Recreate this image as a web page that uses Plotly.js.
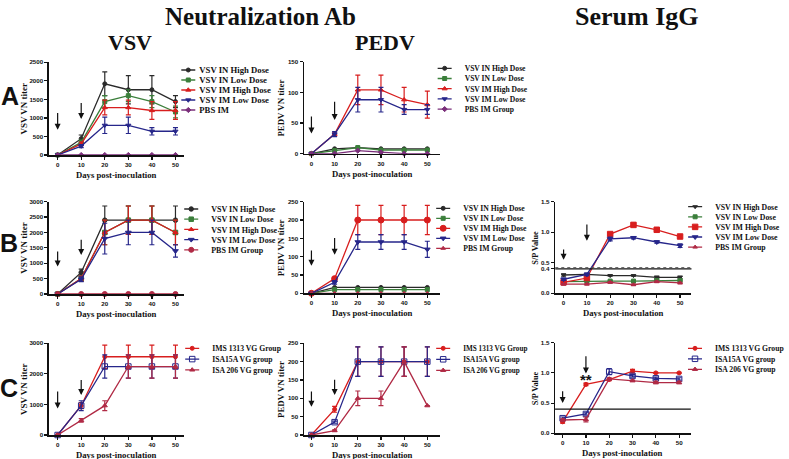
<!DOCTYPE html>
<html>
<head>
<meta charset="utf-8">
<script src="https://cdn.plot.ly/plotly-3.0.1.min.js"></script>
<style>html,body{margin:0;padding:0;background:#fff}#chart{width:789px;height:459px}</style>
</head>
<body>
<div id="chart"></div>
<script>
// ---------------- DATA ----------------
const days = [0, 10, 20, 30, 40, 50];
const namesAB = ['VSV IN High Dose', 'VSV IN Low Dose', 'VSV IM High Dose', 'VSV IM Low Dose', 'PBS IM Group'];
const pbsNameA = 'PBS IM';
const namesC = ['IMS 1313 VG Group', 'ISA15A VG group', 'ISA 206 VG group'];

// A - VSV neutralization
const aVsvInHigh = [0, 440, 1920, 1760, 1760, 1440];
const aVsvInHighErr = [0, 100, 320, 380, 380, 160];
const aVsvInLow = [0, 340, 1440, 1600, 1440, 1160];
const aVsvInLowErr = [0, 60, 160, 160, 160, 160];
const aVsvImHigh = [0, 300, 1280, 1280, 1200, 1200];
const aVsvImHighErr = [0, 50, 200, 200, 240, 240];
const aVsvImLow = [0, 240, 800, 800, 640, 640];
const aVsvImLowErr = [0, 40, 220, 220, 100, 100];
const aVsvPbs = [0, 0, 0, 0, 0, 0];

// A - PEDV neutralization
const aPedvInHigh = [0, 8, 10, 8, 8, 8];
const aPedvInLow = [0, 5, 10, 6, 6, 6];
const aPedvImHigh = [0, 32, 104, 104, 88, 80];
const aPedvImHighErr = [0, 3, 24, 24, 20, 22];
const aPedvImLow = [0, 32, 88, 88, 72, 72];
const aPedvImLowErr = [0, 4, 20, 20, 8, 8];
const aPedvPbs = [0, 0, 5, 2, 0, 0];

// B - VSV neutralization
const bVsvInHigh = [0, 700, 2400, 2400, 2400, 2400];
const bVsvInHighErr = [0, 110, 460, 460, 460, 460];
const bVsvInLow = [0, 500, 2000, 2400, 2400, 2000];
const bVsvInLowErr = [0, 80, 400, 460, 460, 400];
const bVsvImHigh = [0, 500, 2000, 2400, 2400, 2000];
const bVsvImHighErr = [0, 80, 400, 460, 460, 400];
const bVsvImLow = [0, 480, 1800, 2000, 2000, 1400];
const bVsvImLowErr = [0, 80, 500, 400, 400, 200];
const bVsvPbs = [0, 0, 0, 0, 0, 0];

// B - PEDV neutralization
const bPedvInHigh = [0, 16, 16, 16, 16, 16];
const bPedvInLow = [0, 10, 10, 10, 10, 10];
const bPedvImHigh = [0, 40, 200, 200, 200, 200];
const bPedvImHighErr = [0, 3, 40, 40, 40, 40];
const bPedvImLow = [0, 30, 140, 140, 140, 120];
const bPedvImLowErr = [0, 5, 20, 20, 20, 22];
const bPedvPbs = [0, 0, 0, 0, 0, 0];

// B - Serum IgG S/P
const bSpInHigh = [0.30, 0.31, 0.29, 0.29, 0.26, 0.26];
const bSpInHighErr = [0.02, 0.01, 0.01, 0.01, 0.02, 0.02];
const bSpInLow = [0.19, 0.20, 0.20, 0.20, 0.21, 0.21];
const bSpInLowErr = [0.01, 0.01, 0.01, 0.01, 0.01, 0.01];
const bSpImHigh = [0.18, 0.25, 0.97, 1.12, 1.04, 0.93];
const bSpImHighErr = [0.02, 0.02, 0.02, 0.03, 0.03, 0.02];
const bSpImLow = [0.23, 0.31, 0.89, 0.91, 0.84, 0.78];
const bSpImLowErr = [0.02, 0.02, 0.03, 0.02, 0.02, 0.03];
const bSpPbs = [0.15, 0.15, 0.18, 0.14, 0.19, 0.17];
const bSpPbsErr = [0.01, 0.01, 0.01, 0.01, 0.01, 0.01];

// C - VSV neutralization
const cVsvIms = [0, 960, 2560, 2560, 2560, 2560];
const cVsvImsErr = [0, 100, 380, 380, 380, 380];
const cVsvIsa15 = [0, 960, 2240, 2240, 2240, 2240];
const cVsvIsa15Err = [0, 160, 380, 380, 380, 380];
const cVsvIsa206 = [0, 480, 960, 2240, 2240, 2240];
const cVsvIsa206Err = [0, 60, 160, 380, 380, 380];

// C - PEDV neutralization
const cPedvIms = [0, 70, 200, 200, 200, 200];
const cPedvImsErr = [0, 8, 40, 40, 40, 40];
const cPedvIsa15 = [0, 35, 200, 200, 200, 200];
const cPedvIsa15Err = [0, 3, 40, 40, 40, 40];
const cPedvIsa206 = [0, 12, 100, 100, 200, 80];
const cPedvIsa206Err = [0, 2, 20, 20, 40, 0];

// C - Serum IgG S/P
const cSpIms = [0.19, 0.81, 0.89, 1.03, 1.00, 1.00];
const cSpImsErr = [0.02, 0.02, 0.02, 0.03, 0.01, 0.01];
const cSpIsa15 = [0.25, 0.32, 1.02, 0.95, 0.91, 0.90];
const cSpIsa15Err = [0.02, 0.02, 0.05, 0.02, 0.02, 0.02];
const cSpIsa206 = [0.22, 0.23, 0.90, 0.87, 0.84, 0.84];
const cSpIsa206Err = [0.02, 0.04, 0.02, 0.01, 0.02, 0.02];

// inoculation days (arrows) and their extents per panel [top, tip]
const inoculationDays = [0, 10];
const arrowTops = [[1170, 1440], [63, 87], [1430, 1810], [121, 155], [0.74, 1.15], [1470, 1850], [123, 155], [0.72, 1.30]];
const arrowTips = [[680, 970], [33, 55], [890, 1270], [75, 105], [0.55, 0.86], [870, 1310], [77, 109], [0.50, 0.99]];
const spCutoff = 0.4;

// ---------------- LAYOUT HELPERS ----------------
const W = 789, H = 459;
const fx = p => p / W;
const fy = p => 1 - p / H;

const C_BLK = '#2a2a2a', C_GRN = '#3b7f3b', C_RED = '#d81e1e', C_NAV = '#26268a', C_PUR = '#7a2e7a', C_CRM = '#b02a45';

const panels = [
  {L: 50, R: 188, T: 62.3, B: 155, xr: [-3.7, 53.6], yr: [0, 2500], yt: [0, 500, 1000, 1500, 2000, 2500], ytitle: 'VSV VN titer', tx: 24.5, tfs: 9},
  {L: 310.7, R: 450, T: 61.7, B: 153.7, xr: [-3.2, 55.6], yr: [0, 150], yt: [0, 50, 100, 150], ytitle: 'PEDV VN titer', tx: 287, tfs: 8.8},
  {L: 50, R: 188, T: 201.7, B: 294, xr: [-3.7, 53.6], yr: [0, 3000], yt: [0, 500, 1000, 1500, 2000, 2500, 3000], ytitle: 'VSV VN titer', tx: 24.5, tfs: 9},
  {L: 310.7, R: 450, T: 201.7, B: 293.3, xr: [-3.2, 55.6], yr: [0, 250], yt: [0, 50, 100, 150, 200, 250], ytitle: 'PEDV VN titer', tx: 287, tfs: 8.8},
  {L: 567.5, R: 706.7, T: 201.7, B: 293.3, xr: [-3.57, 54.9], yr: [0, 1.5], yt: [0, 0.4, 0.5, 1.0, 1.5], fmt: '.1f', ytitle: 'S/P Value', tx: 547, tfs: 8.3},
  {L: 50, R: 188, T: 343.3, B: 435, xr: [-3.7, 53.6], yr: [0, 3000], yt: [0, 1000, 2000, 3000], ytitle: 'VSV VN titer', tx: 24.5, tfs: 9},
  {L: 310.7, R: 450, T: 343.3, B: 435, xr: [-3.2, 55.6], yr: [0, 250], yt: [0, 50, 100, 150, 200, 250], ytitle: 'PEDV VN titer', tx: 287, tfs: 8.8},
  {L: 567.3, R: 706, T: 342.7, B: 433.3, xr: [-3.24, 55.0], yr: [0, 1.5], yt: [0, 0.5, 1.0, 1.5], fmt: '.1f', ytitle: 'S/P Value', tx: 547, tfs: 8.3}
];

const legendSpecs = [
  {mx: 192, y0: 70, sp: 10, fs: 8.7},
  {mx: 454, y0: 68.3, sp: 10.2, fs: 7.6},
  {mx: 195, y0: 209, sp: 10.2, fs: 8.0},
  {mx: 452.5, y0: 208.3, sp: 10, fs: 7.7},
  {mx: 710, y0: 206.7, sp: 10.1, fs: 7.8},
  {mx: 196, y0: 348.3, sp: 10.8, fs: 7.7},
  {mx: 452.5, y0: 348.3, sp: 11, fs: 7.2},
  {mx: 710, y0: 348.3, sp: 10.5, fs: 7.7}
];

const sfx = i => (i === 0 ? '' : String(i + 1));
const traces = [];
function add(pi, name, y, err, c, s, z) {
  const k = sfx(pi);
  traces.push({
    x: days, y: y, name: name, xaxis: 'x' + k, yaxis: 'y' + k, legend: 'legend' + k,
    type: 'scatter', mode: 'lines+markers', cliponaxis: false,
    line: {color: c, width: 1.3},
    marker: {symbol: s, size: z, color: c, line: {color: c, width: 1}},
    error_y: err ? {type: 'data', array: err, color: c, thickness: 1.2, width: 2.5, visible: true} : {visible: false}
  });
}

// A VSV
add(0, namesAB[0], aVsvInHigh, aVsvInHighErr, C_BLK, 'circle', 4);
add(0, namesAB[1], aVsvInLow, aVsvInLowErr, C_GRN, 'square', 4);
add(0, namesAB[2], aVsvImHigh, aVsvImHighErr, C_RED, 'triangle-up', 4.5);
add(0, namesAB[3], aVsvImLow, aVsvImLowErr, C_NAV, 'triangle-down', 4.5);
add(0, pbsNameA, aVsvPbs, null, C_PUR, 'diamond', 4);
// A PEDV
add(1, namesAB[0], aPedvInHigh, null, C_BLK, 'circle', 4);
add(1, namesAB[1], aPedvInLow, null, C_GRN, 'square', 4);
add(1, namesAB[2], aPedvImHigh, aPedvImHighErr, C_RED, 'triangle-up', 4.5);
add(1, namesAB[3], aPedvImLow, aPedvImLowErr, C_NAV, 'triangle-down', 4.5);
add(1, namesAB[4], aPedvPbs, null, C_PUR, 'diamond', 4);
// B VSV
add(2, namesAB[0], bVsvInHigh, bVsvInHighErr, C_BLK, 'circle', 4.5);
add(2, namesAB[1], bVsvInLow, bVsvInLowErr, C_GRN, 'square', 4.5);
add(2, namesAB[2], bVsvImHigh, bVsvImHighErr, C_RED, 'triangle-up', 4.5);
add(2, namesAB[3], bVsvImLow, bVsvImLowErr, C_NAV, 'triangle-down', 5);
add(2, namesAB[4], bVsvPbs, null, C_CRM, 'circle', 5);
// B PEDV
add(3, namesAB[0], bPedvInHigh, null, C_BLK, 'circle', 4);
add(3, namesAB[1], bPedvInLow, null, C_GRN, 'square', 4);
add(3, namesAB[2], bPedvImHigh, bPedvImHighErr, C_RED, 'circle', 6);
add(3, namesAB[3], bPedvImLow, bPedvImLowErr, C_NAV, 'triangle-down', 5);
add(3, namesAB[4], bPedvPbs, null, C_CRM, 'triangle-up', 4);
// B Serum
add(4, namesAB[0], bSpInHigh, bSpInHighErr, C_BLK, 'triangle-down', 4);
add(4, namesAB[1], bSpInLow, bSpInLowErr, C_GRN, 'square', 4);
add(4, namesAB[2], bSpImHigh, bSpImHighErr, C_RED, 'square', 5.5);
add(4, namesAB[3], bSpImLow, bSpImLowErr, C_NAV, 'triangle-down', 5);
add(4, namesAB[4], bSpPbs, bSpPbsErr, C_CRM, 'triangle-up', 4);
// C VSV
add(5, namesC[0], cVsvIms, cVsvImsErr, C_RED, 'circle', 4);
add(5, namesC[1], cVsvIsa15, cVsvIsa15Err, C_NAV, 'square-open', 5.5);
add(5, namesC[2], cVsvIsa206, cVsvIsa206Err, C_CRM, 'triangle-up', 4.5);
// C PEDV
add(6, namesC[0], cPedvIms, cPedvImsErr, C_RED, 'circle', 4);
add(6, namesC[1], cPedvIsa15, cPedvIsa15Err, C_NAV, 'square-open', 5.5);
add(6, namesC[2], cPedvIsa206, cPedvIsa206Err, C_CRM, 'triangle-up', 4.5);
// C Serum
add(7, namesC[0], cSpIms, cSpImsErr, C_RED, 'circle', 4);
add(7, namesC[1], cSpIsa15, cSpIsa15Err, C_NAV, 'square-open', 5.5);
add(7, namesC[2], cSpIsa206, cSpIsa206Err, C_CRM, 'triangle-up', 4.5);

const serifB = (size) => ({family: 'Liberation Serif, Times New Roman, serif', size: size, color: '#111', weight: 'bold'});
const sansB = (size) => ({family: 'Liberation Sans, Arial, sans-serif', size: size, color: '#111', weight: 'bold'});

const layout = {
  width: W, height: H, margin: {l: 0, r: 0, t: 0, b: 0},
  paper_bgcolor: '#fff', plot_bgcolor: 'rgba(0,0,0,0)',
  showlegend: true, annotations: [], shapes: []
};

panels.forEach((p, i) => {
  const k = sfx(i);
  layout['xaxis' + k] = {
    domain: [fx(p.L), fx(p.R)], anchor: 'y' + k, range: p.xr,
    tickvals: days, ticks: 'outside', ticklen: 3, tickwidth: 1.2, tickcolor: '#111',
    showline: true, linecolor: '#111', linewidth: 1.5, showgrid: false, zeroline: false,
    tickfont: sansB(6.2), fixedrange: true
  };
  layout['yaxis' + k] = {
    domain: [fy(p.B), fy(p.T)], anchor: 'x' + k, range: p.yr,
    tickvals: p.yt, tickformat: p.fmt || '', ticks: 'outside', ticklen: 3, tickwidth: 1.2, tickcolor: '#111',
    showline: true, linecolor: '#111', linewidth: 1.5, showgrid: false, zeroline: false,
    tickfont: sansB(6.2), fixedrange: true
  };
  const ls = legendSpecs[i];
  layout['legend' + k] = {
    x: fx(ls.mx - 20), y: fy(ls.y0 - 5), xanchor: 'left', yanchor: 'top',
    bgcolor: 'rgba(0,0,0,0)', borderwidth: 0, tracegroupgap: 0,
    font: serifB(ls.fs)
  };
  // axis titles
  layout.annotations.push({text: p.ytitle, xref: 'paper', yref: 'paper', x: fx(p.tx), y: fy((p.T + p.B) / 2),
    textangle: -90, showarrow: false, xanchor: 'center', yanchor: 'middle', font: serifB(p.tfs)});
  layout.annotations.push({text: 'Days post-inoculation', xref: 'paper', yref: 'paper', x: fx((p.L + p.R) / 2), y: fy(p.B + 20),
    showarrow: false, xanchor: 'center', yanchor: 'middle', font: serifB(8.7)});
  // inoculation arrows
  inoculationDays.forEach((d, j) => {
    layout.annotations.push({xref: 'x' + k, yref: 'y' + k, axref: 'x' + k, ayref: 'y' + k,
      x: d, y: arrowTips[i][j], ax: d, ay: arrowTops[i][j], text: '', showarrow: true,
      arrowhead: 2, arrowsize: 1, arrowwidth: 1.2, arrowcolor: '#111'});
  });
});

// cutoff lines in serum panels
layout.shapes.push({type: 'line', xref: 'x5 domain', yref: 'y5', x0: 0, x1: 1, y0: spCutoff, y1: spCutoff, line: {color: '#111', width: 1.3}});
layout.shapes.push({type: 'line', xref: 'x5 domain', yref: 'y5', x0: 0, x1: 1, y0: spCutoff + 0.02, y1: spCutoff + 0.02, line: {color: '#555', width: 1, dash: 'dot'}});
layout.shapes.push({type: 'line', xref: 'x8 domain', yref: 'y8', x0: 0, x1: 1, y0: spCutoff, y1: spCutoff, line: {color: '#111', width: 1.3}});

// significance mark
layout.annotations.push({text: '**', xref: 'x8', yref: 'y8', x: 10, y: 0.89, showarrow: false, xanchor: 'center', yanchor: 'middle', font: sansB(15)});

// headers
layout.annotations.push({text: 'Neutralization Ab', xref: 'paper', yref: 'paper', x: fx(266), y: fy(17), showarrow: false, xanchor: 'center', yanchor: 'middle', font: serifB(25)});
layout.annotations.push({text: 'Serum IgG', xref: 'paper', yref: 'paper', x: fx(651), y: fy(17), showarrow: false, xanchor: 'center', yanchor: 'middle', font: serifB(26)});
layout.annotations.push({text: 'VSV', xref: 'paper', yref: 'paper', x: fx(133), y: fy(42), showarrow: false, xanchor: 'center', yanchor: 'middle', font: serifB(22)});
layout.annotations.push({text: 'PEDV', xref: 'paper', yref: 'paper', x: fx(393), y: fy(42), showarrow: false, xanchor: 'center', yanchor: 'middle', font: serifB(22)});
// panel letters
[['A', 10, 96], ['B', 9, 243], ['C', 9, 388]].forEach(([t, x, y]) => {
  layout.annotations.push({text: t, xref: 'paper', yref: 'paper', x: fx(x), y: fy(y), showarrow: false, xanchor: 'center', yanchor: 'middle', font: sansB(25)});
});

Plotly.newPlot('chart', traces, layout, {staticPlot: true, displayModeBar: false}).then(gd => {
  legendSpecs.forEach((spec, i) => {
    const g = gd.querySelector('g.legend' + sfx(i));
    if (!g) return;
    g.querySelectorAll('g.groups').forEach(el => el.setAttribute('transform', 'translate(0,0)'));
    g.querySelectorAll('g.traces').forEach((el, j) => el.setAttribute('transform', 'translate(0,' + (5 + j * spec.sp) + ')'));
    g.querySelectorAll('g.legendlines path').forEach(pth => pth.setAttribute('d', 'M13,0h14'));
    g.querySelectorAll('text.legendtext').forEach(t => {
      t.setAttribute('x', 31);
      t.querySelectorAll('tspan.line').forEach(s => s.setAttribute('x', 31));
    });
  });
});
</script>
</body>
</html>
